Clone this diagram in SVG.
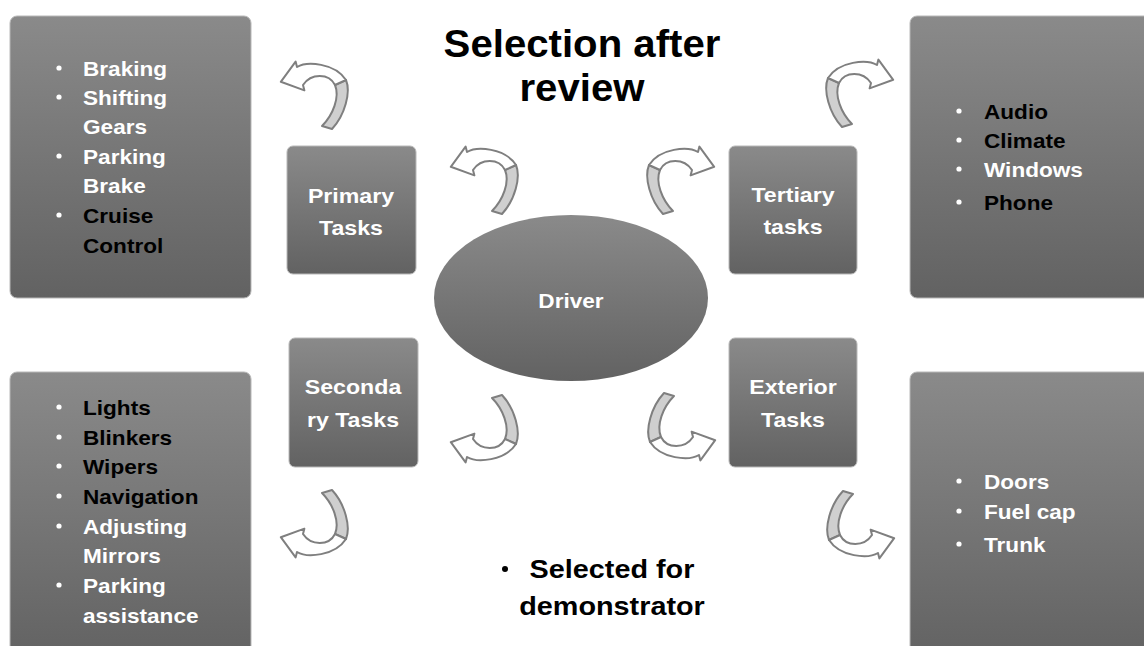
<svg xmlns="http://www.w3.org/2000/svg" xmlns:xlink="http://www.w3.org/1999/xlink" width="1144" height="646" viewBox="0 0 1144 646">
  <style>
    .box { fill: url(#shade); stroke: #b8b8b8; stroke-width: 1; }
    .t { font-family: "Liberation Sans", Arial, sans-serif; font-weight: bold; }
    .w { fill: #ffffff; }
    .k { fill: #000000; }
    .node { font-size: 20.5px; text-anchor: middle; }
    .list { font-size: 20px; }
    .dot { fill: #ffffff; }
    .band { stroke: #7f7f7f; stroke-width: 2; stroke-linejoin: round; }
    .back { fill: #cfcfcf; }
    .front { fill: #ffffff; }
  </style>
  <defs>
    <linearGradient id="shade" x1="0" y1="0" x2="0" y2="1">
      <stop offset="0" stop-color="#8a8a8a"/>
      <stop offset="1" stop-color="#626262"/>
    </linearGradient>
    <!-- hooked block arrow: grey tail rising on the right, white head curling over to the left -->
    <g id="curl">
      <path class="band back" d="M31,-15 C36,-3 30,20 17,34 L7,31 C18,20 25,2 20,-10 Z"/>
      <path class="band front" d="M-18,-28 C-8,-34 20,-32 31,-15 L20,-10 C14,-22 -4,-22 -12,-10 L-10.6,-4.6 L-34.2,-13.2 L-19.4,-33.4 Z"/>
    </g>
  </defs>

  <rect width="1144" height="646" fill="#ffffff"/>

  <!-- heading -->
  <g id="title" class="t k" transform="translate(582,0) scale(1.03,1)" font-size="39" text-anchor="middle">
    <text x="0" y="57">Selection after</text>
    <text x="0" y="101">review</text>
  </g>

  <!-- primary task list -->
  <g id="primary-list">
    <rect class="box" x="10" y="16" width="241" height="282" rx="7"/>
    <circle class="dot" cx="59" cy="68" r="2.6"/>
    <circle class="dot" cx="59" cy="97" r="2.6"/>
    <circle class="dot" cx="59" cy="156" r="2.6"/>
    <circle class="dot" cx="59" cy="215" r="2.6"/>
    <g class="t list" transform="translate(83,0) scale(1.13,1)">
      <text class="w" x="0" y="76">Braking</text>
      <text class="w" x="0" y="105">Shifting</text>
      <text class="w" x="0" y="134">Gears</text>
      <text class="w" x="0" y="164">Parking</text>
      <text class="w" x="0" y="193">Brake</text>
      <text class="k" x="0" y="223">Cruise</text>
      <text class="k" x="0" y="253">Control</text>
    </g>
  </g>

  <!-- tertiary task list -->
  <g id="tertiary-list">
    <rect class="box" x="910" y="16" width="250" height="282" rx="7"/>
    <circle class="dot" cx="959" cy="111" r="2.6"/>
    <circle class="dot" cx="959" cy="140" r="2.6"/>
    <circle class="dot" cx="959" cy="169" r="2.6"/>
    <circle class="dot" cx="959" cy="202" r="2.6"/>
    <g class="t list" transform="translate(984,0) scale(1.13,1)">
      <text class="k" x="0" y="119">Audio</text>
      <text class="k" x="0" y="148">Climate</text>
      <text class="w" x="0" y="177">Windows</text>
      <text class="k" x="0" y="210">Phone</text>
    </g>
  </g>

  <!-- secondary task list -->
  <g id="secondary-list">
    <rect class="box" x="10" y="372" width="241" height="290" rx="7"/>
    <circle class="dot" cx="59" cy="407" r="2.6"/>
    <circle class="dot" cx="59" cy="437" r="2.6"/>
    <circle class="dot" cx="59" cy="466" r="2.6"/>
    <circle class="dot" cx="59" cy="496" r="2.6"/>
    <circle class="dot" cx="59" cy="526" r="2.6"/>
    <circle class="dot" cx="59" cy="585" r="2.6"/>
    <g class="t list" transform="translate(83,0) scale(1.13,1)">
      <text class="k" x="0" y="415">Lights</text>
      <text class="k" x="0" y="445">Blinkers</text>
      <text class="k" x="0" y="474">Wipers</text>
      <text class="k" x="0" y="504">Navigation</text>
      <text class="w" x="0" y="534">Adjusting</text>
      <text class="w" x="0" y="563">Mirrors</text>
      <text class="w" x="0" y="593">Parking</text>
      <text class="w" x="0" y="623">assistance</text>
    </g>
  </g>

  <!-- exterior task list -->
  <g id="exterior-list">
    <rect class="box" x="910" y="372" width="250" height="290" rx="7"/>
    <circle class="dot" cx="959" cy="481" r="2.6"/>
    <circle class="dot" cx="959" cy="511" r="2.6"/>
    <circle class="dot" cx="959" cy="544" r="2.6"/>
    <g class="t list" transform="translate(984,0) scale(1.13,1)">
      <text class="w" x="0" y="489">Doors</text>
      <text class="w" x="0" y="519">Fuel cap</text>
      <text class="w" x="0" y="552">Trunk</text>
    </g>
  </g>

  <!-- task categories -->
  <g id="primary">
    <rect class="box" x="287" y="146" width="129" height="128" rx="6"/>
    <g class="t node w" transform="translate(351,0) scale(1.13,1)">
      <text x="0" y="203">Primary</text>
      <text x="0" y="235">Tasks</text>
    </g>
  </g>
  <g id="tertiary">
    <rect class="box" x="729" y="146" width="128" height="128" rx="6"/>
    <g class="t node w" transform="translate(793,0) scale(1.13,1)">
      <text x="0" y="202">Tertiary</text>
      <text x="0" y="234">tasks</text>
    </g>
  </g>
  <g id="secondary">
    <rect class="box" x="289" y="338" width="129" height="129" rx="6"/>
    <g class="t node w" transform="translate(353,0) scale(1.13,1)">
      <text x="0" y="394">Seconda</text>
      <text x="0" y="427">ry Tasks</text>
    </g>
  </g>
  <g id="exterior">
    <rect class="box" x="729" y="338" width="128" height="129" rx="6"/>
    <g class="t node w" transform="translate(793,0) scale(1.13,1)">
      <text x="0" y="394">Exterior</text>
      <text x="0" y="427">Tasks</text>
    </g>
  </g>

  <!-- centre -->
  <g id="driver">
    <ellipse cx="571" cy="298" rx="137" ry="83" fill="url(#shade)"/>
    <g class="t w" font-size="20" text-anchor="middle" transform="translate(571,0) scale(1.13,1)">
      <text x="0" y="308">Driver</text>
    </g>
  </g>

  <!-- curved arrows -->
  <g id="connectors">
    <use xlink:href="#curl" transform="translate(315,95)"/>
    <use xlink:href="#curl" transform="translate(485,180)"/>
    <use xlink:href="#curl" transform="translate(859,93) scale(-1,1)"/>
    <use xlink:href="#curl" transform="translate(680,180) scale(-1,1)"/>
    <use xlink:href="#curl" transform="translate(485,429) scale(1,-1)"/>
    <use xlink:href="#curl" transform="translate(315,524) scale(1,-1)"/>
    <use xlink:href="#curl" transform="translate(681,427) scale(-1,-1)"/>
    <use xlink:href="#curl" transform="translate(860,525) scale(-1,-1)"/>
  </g>

  <!-- note -->
  <g id="note">
    <circle cx="505" cy="569" r="3" fill="#000000"/>
    <g class="t k" font-size="25.5" text-anchor="middle" transform="translate(612,0) scale(1.13,1)">
      <text x="0" y="578">Selected for</text>
      <text x="0" y="615">demonstrator</text>
    </g>
  </g>
</svg>
